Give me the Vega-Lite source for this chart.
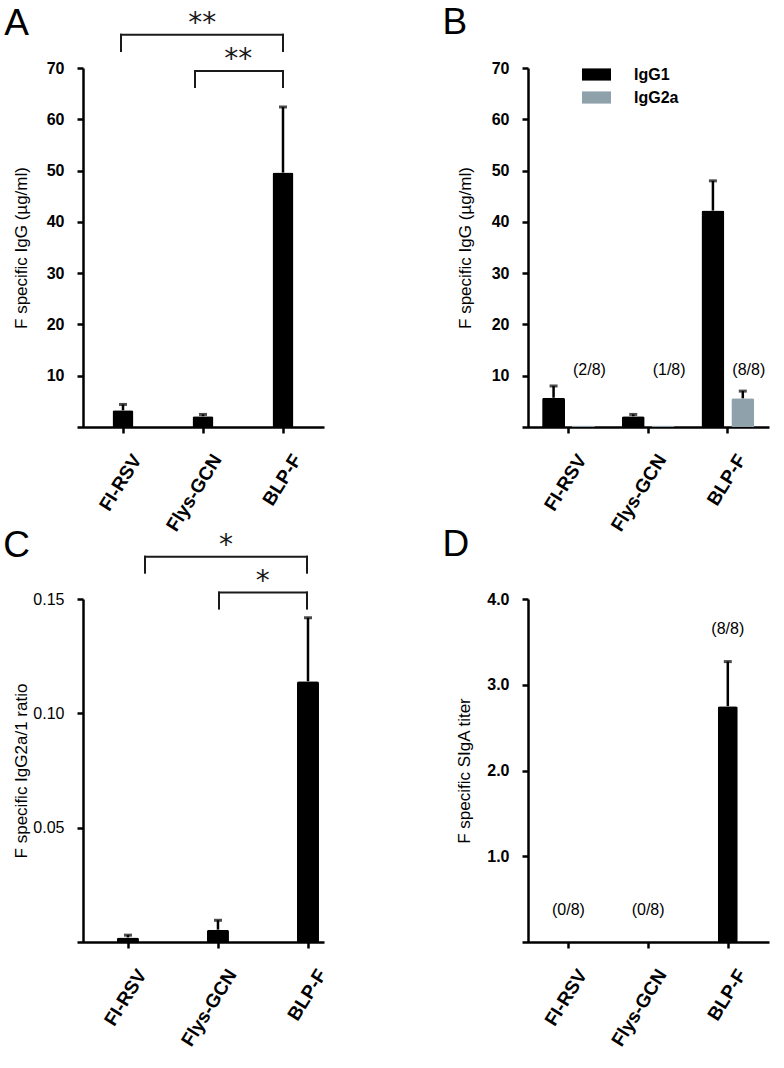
{
  "$schema": "https://vega.github.io/schema/vega-lite/v6.json",
  "padding": {"left": 3, "top": 4, "right": 5, "bottom": 5},
  "background": "white",
  "config": {
    "view": {"stroke": null},
    "font": "Liberation Sans",
    "axis": {"domainColor": "#000", "domainWidth": 2.5, "tickColor": "#000", "tickWidth": 2.5, "tickSize": 6, "grid": false, "labelFont": "Liberation Sans", "labelFontSize": 16, "labelFontWeight": "bold", "labelColor": "#000", "titleFont": "Liberation Sans", "titleFontSize": 17, "titleFontWeight": "normal", "titleColor": "#000"},
    "title": {"font": "Liberation Sans", "fontSize": 37, "fontWeight": "normal", "anchor": "start", "frame": "bounds", "color": "#000"}
  },
  "datasets": {
    "a_bars": [{"group": "FI-RSV", "mean": 3.25, "upper": 4.4}, {"group": "Flys-GCN", "mean": 2.1, "upper": 2.45}, {"group": "BLP-F", "mean": 49.6, "upper": 62.4}],
    "a_seg": [{"x1": -0.025, "x2": 2, "y1": 76.5, "y2": 76.5}, {"x1": -0.025, "x2": -0.025, "y1": 76.5, "y2": 73.3}, {"x1": 2, "x2": 2, "y1": 76.5, "y2": 73.3}, {"x1": 0.9, "x2": 2, "y1": 69.4, "y2": 69.4}, {"x1": 0.9, "x2": 0.9, "y1": 69.4, "y2": 66.3}, {"x1": 2, "x2": 2, "y1": 69.4, "y2": 66.3}],
    "a_star": [{"x": 0.99, "y": 77.0, "label": "**"}, {"x": 1.44, "y": 70.0, "label": "**"}],
    "b_bars": [{"group": "FI-RSV", "iso": "IgG1", "mean": 5.7}, {"group": "FI-RSV", "iso": "IgG2a", "mean": 0.3}, {"group": "Flys-GCN", "iso": "IgG1", "mean": 2.1}, {"group": "Flys-GCN", "iso": "IgG2a", "mean": 0.3}, {"group": "BLP-F", "iso": "IgG1", "mean": 42.2}, {"group": "BLP-F", "iso": "IgG2a", "mean": 5.6}],
    "b_err": [{"group": "FI-RSV", "iso": "IgG1", "mean": 5.7, "upper": 8.0}, {"group": "Flys-GCN", "iso": "IgG1", "mean": 2.1, "upper": 2.45}, {"group": "BLP-F", "iso": "IgG1", "mean": 42.2, "upper": 48.0}, {"group": "BLP-F", "iso": "IgG2a", "mean": 5.6, "upper": 7.0}],
    "b_lab": [{"group": "FI-RSV", "iso": "IgG2a", "y": 11.2, "label": "(2/8)"}, {"group": "Flys-GCN", "iso": "IgG2a", "y": 11.2, "label": "(1/8)"}, {"group": "BLP-F", "iso": "IgG2a", "y": 11.2, "label": "(8/8)"}],
    "c_bars": [{"group": "FI-RSV", "mean": 0.002, "upper": 0.003}, {"group": "Flys-GCN", "mean": 0.0054, "upper": 0.0095}, {"group": "BLP-F", "mean": 0.114, "upper": 0.1418}],
    "c_seg": [{"x1": 0.189, "x2": 1.989, "y1": 0.1685, "y2": 0.1685}, {"x1": 0.189, "x2": 0.189, "y1": 0.1685, "y2": 0.1615}, {"x1": 1.989, "x2": 1.989, "y1": 0.1685, "y2": 0.1615}, {"x1": 1.011, "x2": 1.989, "y1": 0.1528, "y2": 0.1528}, {"x1": 1.011, "x2": 1.011, "y1": 0.1528, "y2": 0.1458}, {"x1": 1.989, "x2": 1.989, "y1": 0.1528, "y2": 0.1458}],
    "c_star": [{"x": 1.089, "y": 0.1698, "label": "*"}, {"x": 1.497, "y": 0.1541, "label": "*"}],
    "d_bars": [{"group": "BLP-F", "mean": 2.75, "upper": 3.27}],
    "d_lab": [{"group": "FI-RSV", "y": 0.373, "label": "(0/8)"}, {"group": "Flys-GCN", "y": 0.373, "label": "(0/8)"}, {"group": "BLP-F", "y": 3.655, "label": "(8/8)"}]
  },
  "columns": 2,
  "spacing": {"row": 172, "column": 198},
  "bounds": "flush",
  "resolve": {"scale": {"color": "independent"}},
  "concat": [
    {
      "width": 247, "height": 359,
      "title": {"text": "A", "offset": -33.3, "dx": -8},
      "layer": [
        {
          "data": {"name": "a_bars"},
          "layer": [
            {"mark": {"type": "bar", "width": 21, "color": "#000", "cornerRadiusTopLeft": 2, "cornerRadiusTopRight": 2},
             "encoding": {
               "x": {"field": "group", "type": "nominal", "sort": null, "scale": {"type": "point", "domain": ["FI-RSV", "Flys-GCN", "BLP-F"], "padding": 0.54375, "align": 0.5287}, "axis": {"title": null, "labelFontSize": 19, "labelAngle": -58, "labelAlign": "right", "labelBaseline": "top", "labelOffset": 6, "labelPadding": 18}},
               "y": {"field": "mean", "type": "quantitative", "scale": {"domain": [0, 70], "nice": false}, "axis": {"title": "F specific IgG (µg/ml)", "values": [10, 20, 30, 40, 50, 60, 70], "offset": -6, "labelPadding": 13, "titlePadding": 16}}
             }},
            {"mark": {"type": "rule", "strokeWidth": 2.5, "color": "#000"},
             "encoding": {
               "x": {"field": "group", "type": "nominal", "sort": null},
               "y": {"field": "mean", "type": "quantitative"},
               "y2": {"field": "upper"}
             }},
            {"mark": {"type": "tick", "thickness": 3, "size": 8, "color": "#000"},
             "encoding": {
               "x": {"field": "group", "type": "nominal", "sort": null},
               "y": {"field": "upper", "type": "quantitative"}
             }}
          ]
        },
        {
          "data": {"name": "a_seg"},
          "mark": {"type": "rule", "strokeWidth": 2, "color": "#1a1a1a", "strokeCap": "square"},
          "encoding": {
            "x": {"field": "x1", "type": "quantitative", "scale": {"domain": [-0.575, 2.5125], "nice": false, "zero": false}, "axis": null},
            "x2": {"field": "x2"},
            "y": {"field": "y1", "type": "quantitative"},
            "y2": {"field": "y2"}
          }
        },
        {
          "data": {"name": "a_star"},
          "mark": {"type": "text", "font": "DejaVu Sans", "fontSize": 28, "baseline": "alphabetic", "align": "center", "color": "#1a1a1a"},
          "encoding": {
            "x": {"field": "x", "type": "quantitative", "scale": {"domain": [-0.575, 2.5125], "nice": false, "zero": false}, "axis": null},
            "y": {"field": "y", "type": "quantitative"},
            "text": {"field": "label"}
          }
        }
      ],
      "resolve": {"scale": {"x": "independent"}}
    },
    {
      "width": 247, "height": 359,
      "title": {"text": "B", "offset": 18, "dx": -14},
      "layer": [
        {
          "data": {"name": "b_bars"},
          "mark": {"type": "bar", "cornerRadiusTopLeft": 2, "cornerRadiusTopRight": 2},
          "encoding": {
            "x": {"field": "group", "type": "nominal", "sort": null, "scale": {"type": "band", "domain": ["FI-RSV", "Flys-GCN", "BLP-F"], "paddingInner": 0.3375, "paddingOuter": 0.21875, "align": 0.577}, "axis": {"title": null, "labelFontSize": 19, "labelAngle": -58, "labelAlign": "right", "labelBaseline": "top", "labelOffset": 6, "labelPadding": 18}},
            "xOffset": {"field": "iso", "type": "nominal", "scale": {"domain": ["IgG1", "IgG2a"], "paddingInner": 0.233, "paddingOuter": 0}},
            "y": {"field": "mean", "type": "quantitative", "scale": {"domain": [0, 70], "nice": false}, "axis": {"title": "F specific IgG (µg/ml)", "values": [10, 20, 30, 40, 50, 60, 70], "offset": -6, "labelPadding": 13, "titlePadding": 16.7}},
            "color": {"field": "iso", "type": "nominal", "scale": {"domain": ["IgG1", "IgG2a"], "range": ["#000000", "#8fa1ab"]},
              "legend": {"title": null, "orient": "none", "legendX": 60, "legendY": -8, "symbolType": "M-1,-0.42L1,-0.42L1,0.42L-1,0.42Z", "symbolSize": 841, "symbolStrokeWidth": 0, "labelFont": "Liberation Sans", "labelFontSize": 16, "labelFontWeight": "bold", "labelColor": "#000", "labelOffset": 23, "rowPadding": -2, "padding": 0}}
          }
        },
        {
          "data": {"name": "b_err"},
          "layer": [
            {"mark": {"type": "rule", "strokeWidth": 2.5, "color": "#000"},
             "encoding": {
               "x": {"field": "group", "type": "nominal", "sort": null},
               "xOffset": {"field": "iso", "type": "nominal"},
               "y": {"field": "mean", "type": "quantitative"},
               "y2": {"field": "upper"}
             }},
            {"mark": {"type": "tick", "thickness": 3, "size": 8, "color": "#000"},
             "encoding": {
               "x": {"field": "group", "type": "nominal", "sort": null},
               "xOffset": {"field": "iso", "type": "nominal"},
               "y": {"field": "upper", "type": "quantitative"}
             }}
          ]
        },
        {
          "data": {"name": "b_lab"},
          "mark": {"type": "text", "fontSize": 16, "font": "Liberation Sans", "dx": 6, "baseline": "middle", "align": "center", "color": "#000"},
          "encoding": {
            "x": {"field": "group", "type": "nominal", "sort": null},
            "xOffset": {"field": "iso", "type": "nominal"},
            "y": {"field": "y", "type": "quantitative"},
            "text": {"field": "label"}
          }
        }
      ]
    },
    {
      "width": 247, "height": 343,
      "title": {"text": "C", "offset": -33.2, "dx": -9.3},
      "layer": [
        {
          "data": {"name": "c_bars"},
          "layer": [
            {"mark": {"type": "bar", "width": 22, "color": "#000", "cornerRadiusTopLeft": 2, "cornerRadiusTopRight": 2},
             "encoding": {
               "x": {"field": "group", "type": "nominal", "sort": null, "scale": {"type": "point", "domain": ["FI-RSV", "Flys-GCN", "BLP-F"], "padding": 0.372, "align": 0.761}, "axis": {"title": null, "labelFontSize": 19, "labelAngle": -58, "labelAlign": "right", "labelBaseline": "top", "labelOffset": 6, "labelPadding": 18}},
               "y": {"field": "mean", "type": "quantitative", "scale": {"domain": [0, 0.15], "nice": false}, "axis": {"title": "F specific IgG2a/1 ratio", "values": [0.05, 0.1, 0.15], "format": ".2f", "labelFontWeight": "normal", "offset": -6, "labelPadding": 13, "titlePadding": 2.4}}
             }},
            {"mark": {"type": "rule", "strokeWidth": 2.5, "color": "#000"},
             "encoding": {
               "x": {"field": "group", "type": "nominal", "sort": null},
               "y": {"field": "mean", "type": "quantitative"},
               "y2": {"field": "upper"}
             }},
            {"mark": {"type": "tick", "thickness": 3, "size": 8, "color": "#000"},
             "encoding": {
               "x": {"field": "group", "type": "nominal", "sort": null},
               "y": {"field": "upper", "type": "quantitative"}
             }}
          ]
        },
        {
          "data": {"name": "c_seg"},
          "mark": {"type": "rule", "strokeWidth": 2, "color": "#1a1a1a", "strokeCap": "square"},
          "encoding": {
            "x": {"field": "x1", "type": "quantitative", "scale": {"domain": [-0.5667, 2.1778], "nice": false, "zero": false}, "axis": null},
            "x2": {"field": "x2"},
            "y": {"field": "y1", "type": "quantitative"},
            "y2": {"field": "y2"}
          }
        },
        {
          "data": {"name": "c_star"},
          "mark": {"type": "text", "font": "DejaVu Sans", "fontSize": 28, "baseline": "alphabetic", "align": "center", "color": "#1a1a1a"},
          "encoding": {
            "x": {"field": "x", "type": "quantitative", "scale": {"domain": [-0.5667, 2.1778], "nice": false, "zero": false}, "axis": null},
            "y": {"field": "y", "type": "quantitative"},
            "text": {"field": "label"}
          }
        }
      ],
      "resolve": {"scale": {"x": "independent"}}
    },
    {
      "width": 247, "height": 343,
      "title": {"text": "D", "offset": 27.5, "dx": -13.5},
      "layer": [
        {"data": {"name": "d_bars"},
         "mark": {"type": "bar", "width": 20, "color": "#000", "cornerRadiusTopLeft": 2, "cornerRadiusTopRight": 2},
         "encoding": {
           "x": {"field": "group", "type": "nominal", "sort": null, "scale": {"type": "point", "domain": ["FI-RSV", "Flys-GCN", "BLP-F"], "padding": 0.55, "align": 0.53}, "axis": {"title": null, "labelFontSize": 19, "labelAngle": -58, "labelAlign": "right", "labelBaseline": "top", "labelOffset": 6, "labelPadding": 18}},
           "y": {"field": "mean", "type": "quantitative", "scale": {"domain": [0, 4], "nice": false}, "axis": {"title": "F specific SIgA titer", "values": [1, 2, 3, 4], "format": ".1f", "offset": -6, "labelPadding": 13, "titlePadding": 12.8}}
         }},
        {"data": {"name": "d_bars"},
         "mark": {"type": "rule", "strokeWidth": 2.5, "color": "#000"},
         "encoding": {
           "x": {"field": "group", "type": "nominal", "sort": null},
           "y": {"field": "mean", "type": "quantitative"},
           "y2": {"field": "upper"}
         }},
        {"data": {"name": "d_bars"},
         "mark": {"type": "tick", "thickness": 3, "size": 8, "color": "#000"},
         "encoding": {
           "x": {"field": "group", "type": "nominal", "sort": null},
           "y": {"field": "upper", "type": "quantitative"}
         }},
        {"data": {"name": "d_lab"},
         "mark": {"type": "text", "fontSize": 16, "font": "Liberation Sans", "baseline": "middle", "align": "center", "color": "#000"},
         "encoding": {
           "x": {"field": "group", "type": "nominal", "sort": null},
           "y": {"field": "y", "type": "quantitative"},
           "text": {"field": "label"}
         }}
      ]
    }
  ]
}
